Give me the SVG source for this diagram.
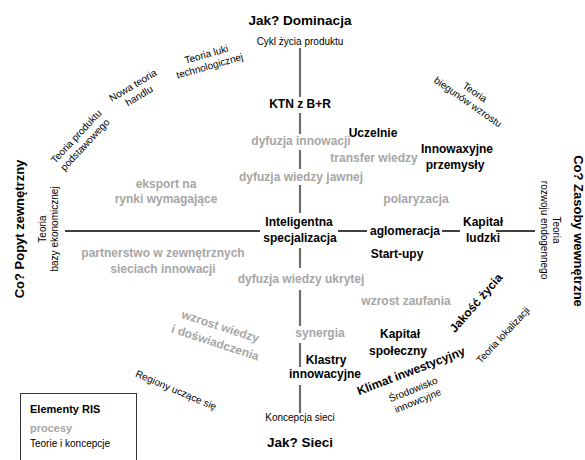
<svg xmlns="http://www.w3.org/2000/svg" width="585" height="460" viewBox="0 0 585 460">
<style>
text{font-family:"Liberation Sans",Arial,sans-serif;text-anchor:middle;fill:#000}
.h{font-size:13.5px;font-weight:bold}
.v{font-size:13px;font-weight:bold}
.b{font-size:12px;font-weight:bold}
.g{font-size:12px;font-weight:bold;fill:#a6a6a6}
.t{font-size:10px}
.l{text-anchor:start}
.vl{stroke:#6e6e6e;stroke-width:2.2;fill:none}
.hl{stroke:#000;stroke-width:1.5;fill:none}
</style>
<rect width="585" height="460" fill="#fff"/>
<g id="connectors">
<path class="vl" d="M300 48V97M300 113V134M300 150V169M300 185V213M300 248V268M300 290V326M300 343V367M300 385V413"/>
<path class="hl" d="M65 231H260M338 231H367M442 231H460M496 231H535"/>
</g>
<g id="axis-top"><text class="h" x="300" y="25">Jak? Dominacja</text><text class="t" x="300" y="45">Cykl życia produktu</text></g>
<g id="axis-bottom"><text class="t" x="300" y="421">Koncepcja sieci</text><text class="h" x="300" y="447">Jak? Sieci</text></g>
<g id="axis-left"><text class="v" transform="translate(23.5,229) rotate(-90)">Co? Popyt zewnętrzny</text>
<text class="t" transform="translate(46,229) rotate(-90)"><tspan x="0" y="0">Teoria</tspan><tspan x="0" y="12">bazy ekonomicznej</tspan></text></g>
<g id="axis-right"><text class="v" transform="translate(574,231) rotate(90)">Co? Zasoby wewnętrzne</text>
<text class="t" transform="translate(553,230) rotate(90)"><tspan x="0" y="0">Teoria</tspan><tspan x="0" y="12">rozwoju endogennego</tspan></text></g>
<g id="center"><text class="b" x="299" y="226">Inteligentna</text><text class="b" x="300" y="242">specjalizacja</text></g>
<g id="ktn"><text class="b" x="300" y="108">KTN z B+R</text></g>
<g id="uczelnie"><text class="b" x="373" y="137">Uczelnie</text></g>
<g id="przemysly"><text class="b" x="457" y="153">Innowaxyjne</text><text class="b" x="455" y="169">przemysły</text></g>
<g id="aglomeracja"><text class="b" x="405" y="235">aglomeracja</text></g>
<g id="kapital-ludzki"><text class="b" x="483" y="226">Kapitał</text><text class="b" x="483" y="242">ludzki</text></g>
<g id="startupy"><text class="b" x="397" y="258">Start-upy</text></g>
<g id="kapital-spoleczny"><text class="b" x="400" y="338">Kapitał</text><text class="b" x="398" y="355">społeczny</text></g>
<g id="klastry"><text class="b" x="326" y="364">Klastry</text><text class="b" x="325" y="378">innowacyjne</text></g>
<g id="klimat"><text class="b" transform="translate(411,371) rotate(-21)" y="4">Klimat inwestycyjny</text></g>
<g id="jakosc"><text class="b" transform="translate(476,303) rotate(-49)" y="4">Jakość życia</text></g>
<g id="processes">
<text class="g" x="301" y="145">dyfuzja innowacji</text>
<text class="g" x="374" y="162">transfer wiedzy</text>
<text class="g" x="301" y="181">dyfuzja wiedzy jawnej</text>
<text class="g" x="166" y="188">eksport na</text>
<text class="g" x="166" y="203">rynki wymagające</text>
<text class="g" x="416" y="203">polaryzacja</text>
<text class="g" x="163" y="257">partnerstwo w zewnętrznych</text>
<text class="g" x="163" y="273">sieciach innowacji</text>
<text class="g" x="301" y="283">dyfuzja wiedzy ukrytej</text>
<text class="g" x="406" y="305">wzrost zaufania</text>
<text class="g" x="320" y="337">synergia</text>
<text class="g" transform="translate(218,334) rotate(18)"><tspan x="0" y="-4">wzrost wiedzy</tspan><tspan x="0" y="13">i doświadczenia</tspan></text>
</g>
<g id="theories">
<text class="t" transform="translate(208,60) rotate(-16)"><tspan x="0" y="-2.5">Teoria luki</tspan><tspan x="0" y="9.5">technologicznej</tspan></text>
<text class="t" transform="translate(136,90.5) rotate(-31)"><tspan x="0" y="-2.5">Nowa teoria</tspan><tspan x="0" y="9.5">handlu</tspan></text>
<text class="t" transform="translate(80.5,140.5) rotate(-47)"><tspan x="0" y="-2.5">Teoria produktu</tspan><tspan x="0" y="9.5">podstawowego</tspan></text>
<text class="t" transform="translate(471.5,97) rotate(35)"><tspan x="0" y="-2.5">Teoria</tspan><tspan x="0" y="9.5">biegunów wzrostu</tspan></text>
<text class="t" transform="translate(176,390) rotate(23)" y="3.5">Regiony uczące się</text>
<text class="t" transform="translate(503,335) rotate(-47)" y="3.5">Teoria lokalizacji</text>
<text class="t" transform="translate(415.5,395) rotate(-22)"><tspan x="0" y="-2.5">Środowisko</tspan><tspan x="0" y="9.5">innowcyjne</tspan></text>
</g>
<g id="legend">
<rect x="20.5" y="393.5" width="116" height="80" fill="#fff" stroke="#333" stroke-width="1"/>
<text class="b l" x="30" y="413" style="font-size:11px">Elementy RIS</text>
<text class="g l" x="30" y="432" style="font-size:11px">procesy</text>
<text class="t l" x="30" y="447">Teorie i koncepcje</text>
</g>
</svg>
